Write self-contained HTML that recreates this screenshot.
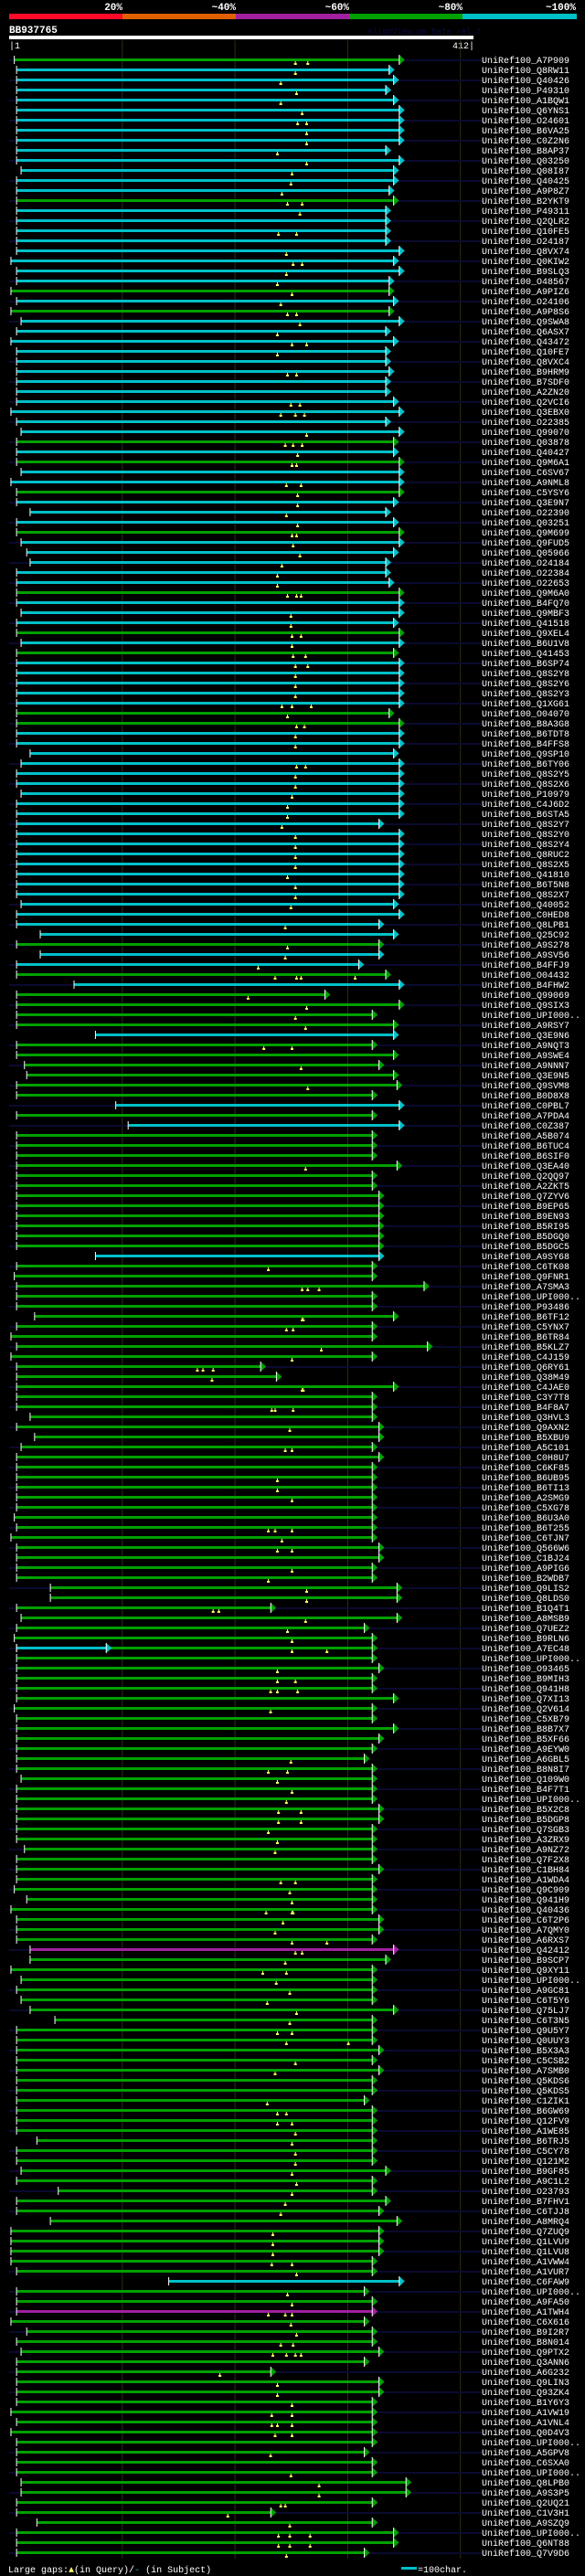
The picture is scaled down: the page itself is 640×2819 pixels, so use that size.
<!DOCTYPE html>
<html><head><meta charset="utf-8"><title>BB937765 alignment view</title>
<style>
html,body{margin:0;padding:0;background:#000;}
body{width:640px;height:2819px;overflow:hidden;}
svg{display:block;font-family:"Liberation Mono",monospace;}
</style></head>
<body>
<svg id="chart" width="640" height="2819" viewBox="0 0 640 2819" xmlns="http://www.w3.org/2000/svg">
<rect width="640" height="2819" fill="#000"/>
<g>
<rect x="10" y="15" width="124" height="6" fill="#ff0a28"/>
<rect x="134" y="15" width="124" height="6" fill="#e06000"/>
<rect x="258" y="15" width="124" height="6" fill="#a020a0"/>
<rect x="382" y="15" width="124" height="6" fill="#00a000"/>
<rect x="506" y="15" width="125" height="6" fill="#00c0c8"/>
<g fill="#fff" font-size="11" font-weight="bold" text-anchor="end">
<text x="134" y="11">20%</text>
<text x="258" y="11">~40%</text>
<text x="382" y="11">~60%</text>
<text x="506" y="11">~80%</text>
<text x="630" y="11">~100%</text>
</g>
</g>
<text x="10" y="36" fill="#fff" font-size="11" font-weight="bold">BB937765</text>
<text x="402" y="37" fill="#0a0a40" font-size="9">AlignView.pm Beta rel.7</text>
<rect x="10" y="39" width="508" height="4" fill="#fff"/>
<text x="10" y="53" fill="#fff" font-size="10">|1</text>
<text x="519" y="53" fill="#fff" font-size="10" text-anchor="end">412|</text>
<g id="grid"></g>
<g id="rows"></g>
<g font-size="10" fill="#fff">
<text x="9" y="2815">Large gaps:<tspan fill="#ffff66">▲</tspan>(in Query)/<tspan fill="#00c0c8">-</tspan> (in Subject)</text>
<rect x="439" y="2809" width="17" height="3" fill="#00c0c8"/>
<text x="457" y="2815">=100char.</text>
</g>
</svg>
<script>
const names = ["A7P909","Q8RW11","Q40426","P49310","A1BQW1","Q6YNS1","O24601","B6VA25","C0Z2N6","B8AP37","Q03250","Q08I87","Q40425","A9P8Z7","B2YKT9","P49311","Q2QLR2","Q10FE5","O24187","Q8VX74","Q0KIW2","B9SLQ3","O48567","A9PIZ6","O24106","A9P8S6","Q9SWA8","Q6ASX7",
"Q43472","Q10FE7","Q8VXC4","B9HRM9","B7SDF0","A2ZN20","Q2VCI6","Q3EBX0","O22385","Q99070","Q03878","Q40427","Q9M6A1","C6SV67","A9NML8","C5YSY6","Q3E9N7","O22390","Q03251","Q9M699","Q9FUD5","Q05966","O24184","O22384","O22653","Q9M6A0","B4FQ70","Q9MBF3",
"Q41518","Q9XEL4","B6U1V8","Q41453","B6SP74","Q8S2Y8","Q8S2Y6","Q8S2Y3","Q1XG61","O04070","B8A3G8","B6TDT8","B4FFS8","Q9SP10","B6TY06","Q8S2Y5","Q8S2X6","P10979","C4J6D2","B6STA5","Q8S2Y7","Q8S2Y0","Q8S2Y4","Q8RUC2","Q8S2X5","Q41810","B6T5N8","Q8S2X7",
"Q40052","C0HED8","Q8LPB1","Q25C92","A9S278","A9SV56","B4FFJ9","O04432","B4FHW2","Q99069","Q9SIX3","UPI000..","A9RSY7","Q3E9N6","A9NQT3","A9SWE4","A9NNN7","Q3E9N5","Q9SVM8","B0D8X8","C0PBL7","A7PDA4","C0Z387","A5B074","B6TUC4","B6SIF0","Q3EA40","Q2QQ97",
"A2ZKT5","Q7ZYV6","B9EP65","B9EN93","B5RI95","B5DGQ0","B5DGC5","A9SY68","C6TK08","Q9FNR1","A7SMA3","UPI000..","P93486","B6TF12","C5YNX7","B6TR84","B5KLZ7","C4J159","Q6RY61","Q38M49","C4JAE0","C3Y7T8","B4F8A7","Q3HVL3","Q9AXN2","B5XBU9","A5C101","C0H8U7",
"C6KF85","B6UB95","B6TI13","A2SMG9","C5XG78","B6U3A0","B6T255","C6TJN7","Q566W6","C1BJ24","A9PIG6","B2WDB7","Q9LIS2","Q8LDS0","B1Q4T1","A8MSB9","Q7UEZ2","B9RLN6","A7EC48","UPI000..","O93465","B9MIH3","Q941H8","Q7XI13","Q2V614","C5XB79","B8B7X7","B5XF66",
"A9EYW0","A6GBL5","B8N8I7","Q109W0","B4F7T1","UPI000..","B5X2C8","B5DGP8","Q7SGB3","A3ZRX9","A9NZ72","Q7F2X8","C1BH84","A1WDA4","Q9C909","Q941H9","Q40436","C6T2P6","A7QMY0","A6RXS7","Q42412","B9SCP7","Q9XY11","UPI000..","A9GC81","C6T5Y6","Q75LJ7","C6T3N5",
"Q9U5Y7","Q0UUY3","B5X3A3","C5CSB2","A7SMB0","Q5KDS6","Q5KDS5","C1ZIK1","B6GW69","Q12FV9","A1WE85","B6TRJ5","C5CY78","Q121M2","B9GF85","A9C1L2","O23793","B7FHV1","C6TJJ8","A8MRQ4","Q7ZUQ9","Q1LVU9","Q1LVU8","A1VWW4","A1VUR7","C6FAW9","UPI000..","A9FA50",
"A1TWH4","C6X616","B9I2R7","B8N014","Q9PTX2","Q3ANN6","A6G232","Q9LIN3","Q93ZK4","B1Y6Y3","A1VW19","A1VNL4","Q0D4V3","UPI000..","A5GPV8","C6SXA0","UPI000..","Q8LPB0","A9S3P5","Q2UQ21","C1V3H1","A9SZQ9","UPI000..","Q6NT88","Q7V9D6"];
const starts = [5,7,7,7,7,7,7,7,7,7,7,11,7,7,7,7,7,7,7,7,2,7,7,2,7,2,11,7,
2,7,7,7,7,7,7,2,7,11,7,7,7,11,2,7,7,19,7,7,11,16,19,7,7,7,7,11,
7,7,11,7,7,7,7,7,7,7,7,7,7,19,11,7,7,11,7,7,7,7,7,7,7,7,7,7,
11,7,7,28,7,28,7,7,58,7,7,7,7,77,7,7,14,16,7,7,95,7,106,7,7,7,7,7,
7,7,7,7,7,7,7,77,7,5,7,7,7,23,7,2,7,2,7,7,7,7,7,19,7,23,11,7,
7,7,7,7,7,5,7,2,7,7,7,7,37,37,7,11,7,5,7,7,7,7,7,7,5,7,7,7,
7,7,7,11,7,7,7,7,7,7,14,7,7,7,5,16,2,7,7,7,19,19,2,11,7,11,19,41,
7,7,7,7,7,7,7,7,7,7,7,25,7,7,11,7,44,7,7,37,2,2,2,2,7,142,7,7,
7,2,16,7,11,7,7,7,7,7,2,7,2,7,7,7,7,11,11,7,7,25,7,7,7];
const ends = [351,342,346,339,346,351,351,351,351,339,351,346,346,342,346,339,339,339,339,351,346,351,342,342,346,342,351,339,
346,339,339,342,339,339,346,351,339,351,346,346,351,351,351,351,346,339,346,351,351,346,339,339,342,351,351,351,
346,351,351,346,351,351,351,351,351,342,351,351,351,346,351,351,351,351,351,351,333,351,351,351,351,351,351,351,
346,351,333,346,333,333,315,339,351,285,351,327,346,346,327,346,333,346,349,327,351,327,351,327,327,327,349,327,
327,333,333,333,333,333,333,333,327,327,373,327,327,346,327,327,376,327,228,242,346,327,327,327,333,333,327,333,
327,327,327,327,327,327,327,327,333,333,327,327,349,349,237,349,320,327,327,327,333,327,327,346,327,327,346,333,
327,320,327,327,327,327,333,333,327,327,327,327,333,327,327,327,327,333,333,327,346,339,327,327,327,327,346,327,
327,327,333,327,333,327,327,320,327,327,327,327,327,327,339,327,327,339,333,349,333,333,333,327,327,351,320,327,
327,320,327,327,333,320,237,333,333,327,327,327,327,327,320,327,327,357,357,327,237,327,346,346,320];
const colors = ("g" + "c".repeat(13) + "g" + "c".repeat(8) + "gcgcc") +
  ("c".repeat(10) + "gcgccgcccgcccccgcc") +
  ("cgcgcccccgg" + "c".repeat(17)) +
  ("ccccgccgcggggcggggggcgcggggg") +
  ("g".repeat(7) + "c" + "g".repeat(20)) +
  ("g".repeat(28)) +
  ("g".repeat(20) + "m" + "g".repeat(7)) +
  ("g".repeat(25) + "cgg") +
  ("m" + "g".repeat(24));
const gaps = [[254,265],[254],[241],[255],[241],[260],[256,264],[264],[264],[238],[264],[251],[250],[242],[247,260],[258],[],[239,255],[],[246],[252,260],[246],[238],[251],[241],[247,255],[258],[238],
[251,264],[238],[],[247,255],[],[],[250,258],[241,254,262],[],[264],[245,252,260],[256],[251,255],[],[246,259],[256],[256],[246],[256],[251,255],[252],[258],[242],[238],[238],[247,255,259],[],[250],
[250],[251,259],[251],[252,263],[254,265],[254],[254],[254],[242,251,268],[247],[255,262],[254],[254],[],[255,263],[254],[254],[251],[247],[247],[242],[254],[254],[254],[254],[247],[254],[254],
[250],[],[245],[],[247],[245],[221],[236,255,259,307],[],[212],[264],[254],[263],[],[226,251],[],[259],[],[265],[],[],[],[],[],[],[],[263],[],
[],[],[],[],[],[],[],[],[230],[],[260,265,275],[],[],[260,261],[246,252],[],[277],[251],[167,172,181],[180],[260,261],[],[233,236,252],[],[249],[],[245,251],[],
[],[238],[238],[251],[],[],[230,236,251],[242],[238,251],[],[251],[230],[264],[264],[181,186],[263],[247],[251],[251,282],[],[238],[238,254],[232,238,256],[],[232],[],[],[],
[],[250],[230,247],[238],[251],[246],[239,259],[239,259],[230],[238],[236],[],[],[241,254],[249],[251],[228,251,252],[243],[236],[251,282],[254,260],[245],[225,246],[237],[249],[229],[255],[249],
[238,251],[246,301],[],[254],[236],[],[],[229],[238,246],[238,251],[254],[251],[254],[254],[251],[255],[251],[245],[241],[],[234],[234],[234],[233,251],[255],[],[247],[251],
[230,245,251],[250],[255],[241,252],[234,246,254,259],[],[187],[238],[238],[251],[233,251],[233,238,251],[236,251],[],[232],[],[250],[275],[275],[241,245],[194],[249],[239,249,267],[239,249,267],[246]];
const overlayRows = [158];
const overlayStarts = [7];
const overlayEnds = [91];
const gridTicks = [100,200,300,400];

const NS = "http://www.w3.org/2000/svg";
const COL = {c:"#00c0c8", g:"#00a000", m:"#a020a0"};
function xScale(r){ return 10 + r * 1.233; }
function yRow(i){ return 65 + i * 11; }
function mk(tag, attrs, parent){ const e=document.createElementNS(NS,tag); for(const k in attrs) e.setAttribute(k,attrs[k]); parent.appendChild(e); return e; }

const grid = document.getElementById('grid');
gridTicks.forEach(function(t){
  const l = mk('line',{x1:xScale(t)+0.5,x2:xScale(t)+0.5,y1:44,y2:2800,stroke:"#2e2e12","stroke-width":1},grid);
  
  
});

const rowsG = document.getElementById('rows');
function drawHit(g, s, e, y, color){
  const xs = xScale(s), xe = xScale(e);
  const bar = mk('rect',{x:xs,y:y-1,width:Math.max(0,xe-6-xs),height:3,fill:color},g);
  
  
  const arr = mk('polygon',{points:(xe-6)+","+(y-5)+" "+xe+","+(y+0.5)+" "+(xe-6)+","+(y+6),fill:color},g);
  
  
  mk('line',{x1:xe-6,x2:xe-6,y1:y-5,y2:y+6,stroke:"#fff","stroke-width":1},g);
  const tick = mk('rect',{x:xs-1,y:y-4,width:1,height:9,fill:"#fff"},g);
  
  
}
for(let i=0;i<names.length;i++){
  const y = yRow(i);
  const g = mk('g',{},rowsG);
  
  
  if(i%2===0){
    const guide = mk('rect',{x:10,y:y,width:517,height:2,fill:"#0a0a30"},g);
    
    
  }
  drawHit(g, starts[i], ends[i], y, COL[colors[i]] || COL.g);
  const oi = overlayRows.indexOf(i);
  if(oi>=0) drawHit(g, overlayStarts[oi], overlayEnds[oi], y, COL.c);
  (gaps[i]||[]).forEach(function(p){
    const gx = xScale(p);
    const m = mk('path',{d:"M"+(gx-0.5)+" "+(y+2)+"h1v2h1v2h-3v-2h1z",fill:"#ffff66"},g);
    
    
  });
  const t = mk('text',{x:527,y:y+4,fill:"#fff","font-size":10},g);
  t.textContent = "UniRef100_" + names[i];
  
  
}
</script>
</body></html>
